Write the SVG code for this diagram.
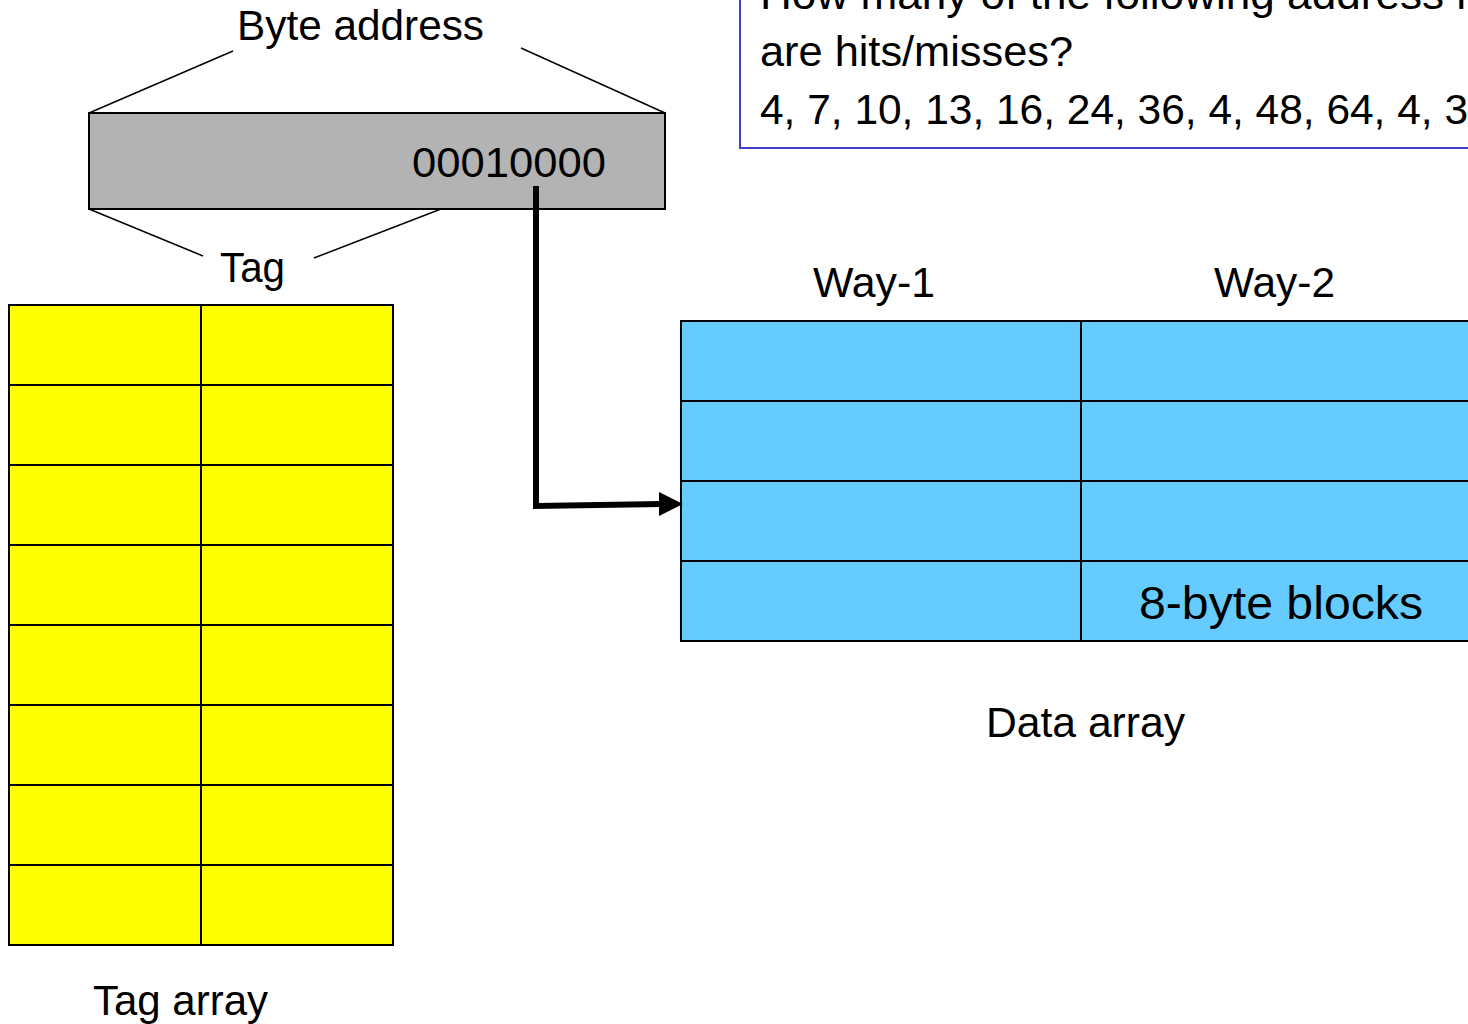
<svg xmlns="http://www.w3.org/2000/svg" width="1468" height="1024" viewBox="0 0 1468 1024">
<style>
text{font-family:"Liberation Sans",Arial,sans-serif;font-size:43px;fill:#000}
.big{font-size:47px}
.cell{stroke:#000;stroke-width:2}
.thin{stroke:#000;stroke-width:1.5;fill:none}
.yel{fill:#ffff00}
.blu{fill:#66ccff}
</style>
<rect width="1468" height="1024" fill="#fff"/>
<g id="question">
<rect x="740" y="-40" width="760" height="188" fill="#fff" stroke="#3f3fcc" stroke-width="2"/>
<text x="760" y="9" textLength="711" lengthAdjust="spacingAndGlyphs">How many of the following address r</text>
<text x="760" y="66" textLength="313" lengthAdjust="spacingAndGlyphs">are hits/misses?</text>
<text x="760" y="124" textLength="708" lengthAdjust="spacingAndGlyphs">4, 7, 10, 13, 16, 24, 36, 4, 48, 64, 4, 3</text>
</g>
<g id="byte-address">
<line class="thin" x1="89" y1="113" x2="233" y2="51"/>
<line class="thin" x1="521" y1="48" x2="665" y2="113"/>
<line class="thin" x1="89" y1="209" x2="203" y2="256"/>
<line class="thin" x1="314" y1="258" x2="441" y2="209"/>
<rect x="89" y="113" width="576" height="96" fill="#b3b3b3" class="cell"/>
<text x="237" y="40" textLength="247" lengthAdjust="spacingAndGlyphs">Byte address</text>
<text x="412" y="177" textLength="194" lengthAdjust="spacingAndGlyphs">00010000</text>
<text x="220" y="282" textLength="65" lengthAdjust="spacingAndGlyphs">Tag</text>
</g>
<g id="tag-array">
<rect class="yel cell" x="9" y="305" width="384" height="640"/>
<g class="cell">
<line x1="201" y1="305" x2="201" y2="945"/>
<line x1="9" y1="385" x2="393" y2="385"/>
<line x1="9" y1="465" x2="393" y2="465"/>
<line x1="9" y1="545" x2="393" y2="545"/>
<line x1="9" y1="625" x2="393" y2="625"/>
<line x1="9" y1="705" x2="393" y2="705"/>
<line x1="9" y1="785" x2="393" y2="785"/>
<line x1="9" y1="865" x2="393" y2="865"/>
</g>
<text x="93" y="1015" textLength="175" lengthAdjust="spacingAndGlyphs">Tag array</text>
</g>
<g id="data-array">
<rect class="blu cell" x="681" y="321" width="800" height="320"/>
<g class="cell">
<line x1="1081" y1="321" x2="1081" y2="641"/>
<line x1="681" y1="401" x2="1481" y2="401"/>
<line x1="681" y1="481" x2="1481" y2="481"/>
<line x1="681" y1="561" x2="1481" y2="561"/>
</g>
<text x="813" y="297" textLength="122" lengthAdjust="spacingAndGlyphs">Way-1</text>
<text x="1214" y="297" textLength="121" lengthAdjust="spacingAndGlyphs">Way-2</text>
<text class="big" x="1139" y="619" textLength="284" lengthAdjust="spacingAndGlyphs">8-byte blocks</text>
<text x="986" y="737" textLength="199" lengthAdjust="spacingAndGlyphs">Data array</text>
</g>
<g id="connectors">
<polyline points="536,186 536,506 662,504" fill="none" stroke="#000" stroke-width="6"/>
<polygon points="659,492 683,504 659,516" fill="#000"/>
</g>
</svg>
